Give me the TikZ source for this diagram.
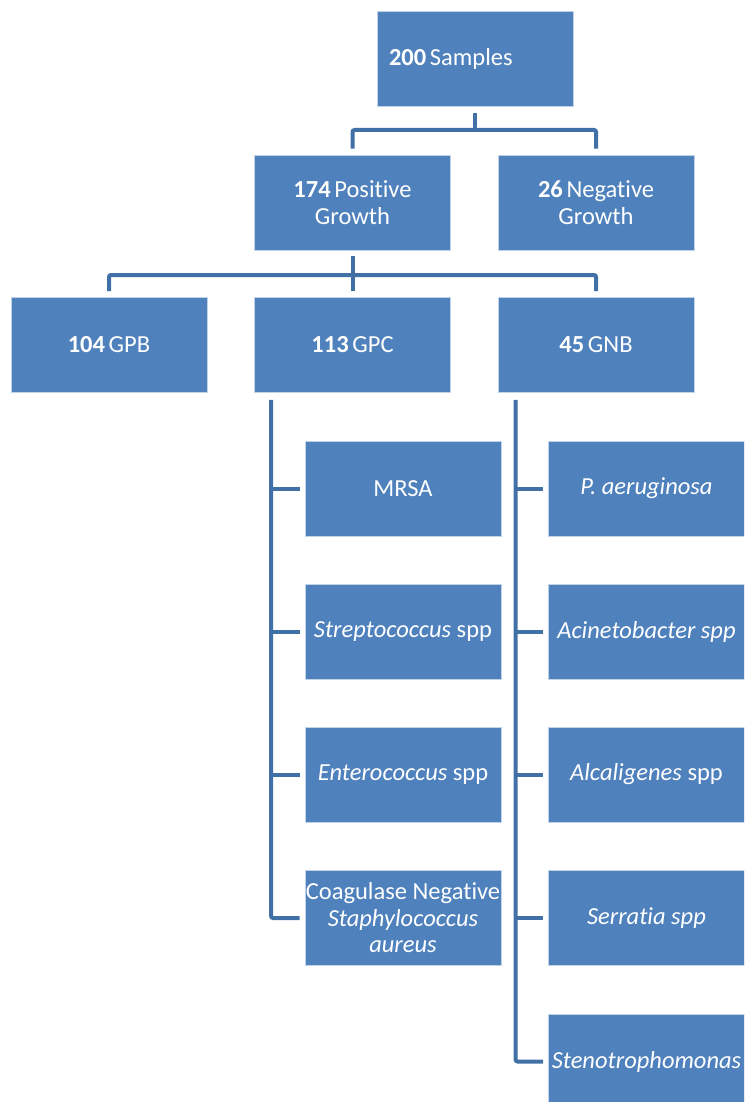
\documentclass[tikz,border=0pt]{standalone}
\usepackage{fontspec}
\setmainfont{Carlito}[Ligatures=NoCommon]
\definecolor{boxblue}{HTML}{4F81BD}
\definecolor{lineblue}{HTML}{4170A7}
\newcommand\cnt[1]{\textbf{#1}\hspace{0.15em}}
\tikzset{
  box/.style={rectangle, fill=boxblue, draw=boxblue!35!white, line width=0.8pt,
    minimum width=196pt, minimum height=95pt, inner sep=0pt, text=white,
    align=center, font=\fontsize{24.5}{26.5}\selectfont},
  link/.style={draw=lineblue, line width=4pt, rounded corners=2pt}
}
\begin{document}
\begin{tikzpicture}[x=1pt,y=-1pt]
    \useasboundingbox (0,0) rectangle (744,1102);
    \clip (0,0) rectangle (744,1102);

    % top levels
    \node[box, text width=172pt, align=left] (root) at (475,59) {\cnt{200}Samples};
    \node[box] (pos) at (352.5,202.5) {\cnt{174}Positive\\Growth};
    \node[box] (neg) at (596,202.5) {\cnt{26}Negative\\Growth};
    \node[box] (gpb) at (109,345) {\cnt{104}GPB};
    \node[box] (gpc) at (352.5,345) {\cnt{113}GPC};
    \node[box] (gnb) at (596,345) {\cnt{45}GNB};

    % cocci
    \foreach \n/\y/\txt in {mrsa/488.5/MRSA,
        strep/631.5/{\textit{Streptococcus} spp},
        entero/774.5/{\textit{Enterococcus} spp},
        coag/918/{Coagulase Negative\\\textit{Staphylococcus}\\\textit{aureus}}}
      \node[box] (\n) at (403,\y) {\txt};

    % gram negative bacilli
    \foreach \n/\y/\txt in {paer/488.5/{\textit{P. aeruginosa}},
        acin/631.5/{\textit{Acinetobacter spp}},
        alca/774.5/{\textit{Alcaligenes} spp},
        serr/918/{\textit{Serratia spp}},
        steno/1061.5/{\textit{Stenotrophomonas}}}
      \node[box] (\n) at (646.5,\y) {\txt};

    % connectors
    \coordinate (rootbus) at (475,130);
    \draw[link] ([yshift=-6pt]root.south) -- (rootbus);
    \draw[link] ([yshift=6pt]pos.north) |- (rootbus) -| ([yshift=6pt]neg.north);

    \coordinate (posbus) at (352.5,275);
    \draw[link] ([yshift=-6pt]pos.south) -- ([yshift=6pt]gpc.north);
    \draw[link] ([yshift=6pt]gpb.north) |- (posbus) -| ([yshift=6pt]gnb.north);

    \coordinate (gpcspine) at ([xshift=17pt,yshift=-7pt]gpc.south west);
    \draw[link] (gpcspine) |- ([xshift=-5pt]coag.west);
    \foreach \n in {mrsa,strep,entero}
      \draw[link] ([xshift=-5pt]\n.west) -- (\n.west -| gpcspine);

    \coordinate (gnbspine) at ([xshift=18pt,yshift=-7pt]gnb.south west);
    \draw[link] (gnbspine) |- ([xshift=-5pt]steno.west);
    \foreach \n in {paer,acin,alca,serr}
      \draw[link] ([xshift=-5pt]\n.west) -- (\n.west -| gnbspine);
\end{tikzpicture}
\end{document}
